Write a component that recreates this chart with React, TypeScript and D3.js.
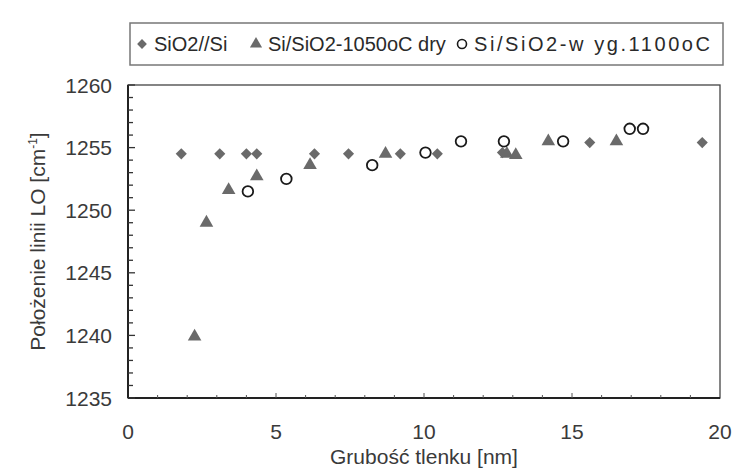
import * as d3 from "d3";
import { useEffect, useRef } from "react";

// SiO2//Si (diamonds)
const sio2X = [1.8, 3.1, 4.0, 4.35, 6.3, 7.45, 9.2, 10.45, 12.65, 15.6, 19.4];
const sio2Y = [1254.5, 1254.5, 1254.5, 1254.5, 1254.5, 1254.5, 1254.5, 1254.5, 1254.6, 1255.4, 1255.4];

// Si/SiO2-1050oC dry (triangles)
const dryX = [2.25, 2.65, 3.4, 4.35, 6.15, 8.7, 12.8, 13.1, 14.2, 16.5];
const dryY = [1239.9, 1249.0, 1251.6, 1252.7, 1253.6, 1254.5, 1254.5, 1254.4, 1255.5, 1255.5];

// Si/SiO2-w yg.1100oC (open circles)
const wetX = [4.05, 5.35, 8.25, 10.05, 11.25, 12.7, 14.7, 16.95, 17.4];
const wetY = [1251.5, 1252.5, 1253.6, 1254.6, 1255.5, 1255.5, 1255.5, 1256.5, 1256.5];

const xTicks = [0, 5, 10, 15, 20];
const yTicks = [1235, 1240, 1245, 1250, 1255, 1260];
const legendLabels = ["SiO2//Si", "Si/SiO2-1050oC dry", "Si/SiO2-w yg.1100oC"];

const FONT = "'Liberation Sans', Arial, sans-serif";
const GRAY = "#6a6a6a";

function LoChart() {
    const svgRef = useRef(null);

    useEffect(() => {
        const svg = d3.select(svgRef.current);
        svg.selectAll("*").remove();

        const width = 732;
        const height = 470;
        const margin = { top: 85, right: 12, bottom: 72, left: 128 };

        svg.attr("width", width).attr("height", height);

        const x = d3.scaleLinear().domain([0, 20]).range([margin.left, width - margin.right]);
        const y = d3.scaleLinear().domain([1235, 1260]).range([height - margin.bottom, margin.top]);

        const x0 = x(0), x1 = x(20), y0 = y(1235), y1 = y(1260);

        // frame
        svg.append("rect")
            .attr("x", x0).attr("y", y1)
            .attr("width", x1 - x0).attr("height", y0 - y1)
            .attr("fill", "white")
            .attr("stroke", "#444")
            .attr("stroke-width", 1.3);

        // left & bottom axis lines (heavier)
        svg.append("line").attr("x1", x0).attr("x2", x0).attr("y1", y1).attr("y2", y0)
            .attr("stroke", "#222").attr("stroke-width", 2);
        svg.append("line").attr("x1", x0).attr("x2", x1).attr("y1", y0).attr("y2", y0)
            .attr("stroke", "#222").attr("stroke-width", 2);

        // y ticks (inside)
        const yMinor = d3.range(1235, 1261, 1);
        svg.append("g").selectAll("line").data(yMinor).enter().append("line")
            .attr("x1", x0).attr("x2", d => x0 + (d % 5 === 0 ? 7 : 5))
            .attr("y1", d => y(d)).attr("y2", d => y(d))
            .attr("stroke", "#333").attr("stroke-width", 1.3);

        // x ticks (inside)
        const xMinor = d3.range(1, 20, 1);
        svg.append("g").selectAll("line").data(xMinor).enter().append("line")
            .attr("x1", d => x(d)).attr("x2", d => x(d))
            .attr("y1", y0).attr("y2", d => y0 - (d % 5 === 0 ? 5 : 3))
            .attr("stroke", "#555").attr("stroke-width", 1);

        // tick labels
        svg.append("g").selectAll("text").data(yTicks).enter().append("text")
            .attr("x", x0 - 16).attr("y", d => y(d))
            .attr("dy", "0.36em")
            .attr("text-anchor", "end")
            .style("font-family", FONT).style("font-size", "21px").style("fill", "#3a3a3a")
            .text(d => d);

        svg.append("g").selectAll("text").data(xTicks).enter().append("text")
            .attr("x", d => x(d)).attr("y", y0 + 41)
            .attr("text-anchor", "middle")
            .style("font-family", FONT).style("font-size", "21px").style("fill", "#3a3a3a")
            .text(d => d);

        // axis titles
        svg.append("text")
            .attr("x", (x0 + x1) / 2).attr("y", height - 6)
            .attr("text-anchor", "middle")
            .style("font-family", FONT).style("font-size", "21px").style("fill", "#3a3a3a")
            .text("Grubość tlenku [nm]");

        const yt = svg.append("text")
            .attr("transform", `translate(45, ${(y0 + y1) / 2}) rotate(-90)`)
            .attr("text-anchor", "middle")
            .style("font-family", FONT).style("font-size", "21px").style("fill", "#3a3a3a");
        yt.append("tspan").text("Położenie linii LO [cm");
        yt.append("tspan").attr("dy", -8).style("font-size", "12px").text("-1");
        yt.append("tspan").attr("dy", 8).text("]");

        const diamond = d3.symbol().type(d3.symbolSquare).size(62);
        const triangle = d3.symbol().type(d3.symbolTriangle).size(80);

        // series
        const sio2 = sio2X.map((v, i) => [v, sio2Y[i]]);
        const dry = dryX.map((v, i) => [v, dryY[i]]);
        const wet = wetX.map((v, i) => [v, wetY[i]]);

        svg.append("g").selectAll("path").data(sio2).enter().append("path")
            .attr("d", diamond)
            .attr("transform", d => `translate(${x(d[0])},${y(d[1])}) rotate(45)`)
            .attr("fill", GRAY);

        svg.append("g").selectAll("path").data(dry).enter().append("path")
            .attr("d", triangle)
            .attr("transform", d => `translate(${x(d[0])},${y(d[1])})`)
            .attr("fill", GRAY);

        svg.append("g").selectAll("circle").data(wet).enter().append("circle")
            .attr("cx", d => x(d[0])).attr("cy", d => y(d[1]))
            .attr("r", 5.3)
            .attr("fill", "white")
            .attr("stroke", "#1a1a1a")
            .attr("stroke-width", 1.8);

        // legend
        const lg = svg.append("g");
        lg.append("rect")
            .attr("x", 130).attr("y", 23)
            .attr("width", 593).attr("height", 42)
            .attr("fill", "white")
            .attr("stroke", "#777")
            .attr("stroke-width", 1.5);

        const ly = 44;
        const itemX = [142, 256, 462];
        const labelLen = [null, null, 236];
        lg.append("path").attr("d", d3.symbol().type(d3.symbolSquare).size(48))
            .attr("transform", `translate(${itemX[0]},${ly}) rotate(45)`).attr("fill", GRAY);
        lg.append("path").attr("d", d3.symbol().type(d3.symbolTriangle).size(64))
            .attr("transform", `translate(${itemX[1]},${ly})`).attr("fill", GRAY);
        lg.append("circle").attr("cx", itemX[2]).attr("cy", ly).attr("r", 4.5)
            .attr("fill", "white").attr("stroke", "#1a1a1a").attr("stroke-width", 1.6);

        lg.selectAll("text.lbl").data(legendLabels).enter().append("text")
            .attr("class", "lbl")
            .attr("x", (d, i) => itemX[i] + 12).attr("y", ly)
            .attr("dy", "0.36em")
            .attr("textLength", (d, i) => labelLen[i])
            .attr("lengthAdjust", "spacing")
            .style("font-family", FONT).style("font-size", "20px").style("fill", "#2a2a2a")
            .text(d => d);
    }, []);

    return <svg ref={svgRef} style={{ position: "absolute", left: 0, top: 0, background: "white" }} />;
}

export default function App() {
    return <LoChart />;
}
